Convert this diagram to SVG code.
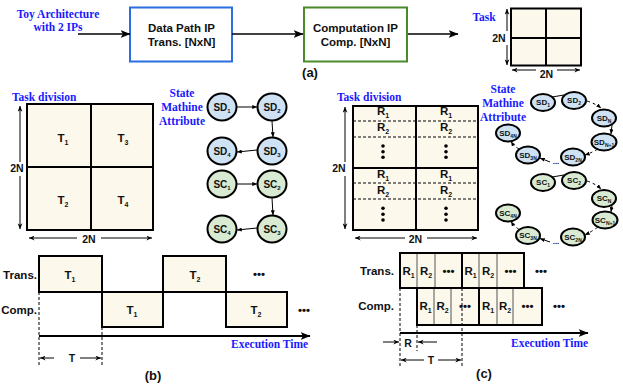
<svg xmlns="http://www.w3.org/2000/svg" width="623" height="385" viewBox="0 0 623 385">
<style>
.blue{font-family:"Liberation Serif","Times New Roman",serif;font-weight:bold;font-size:11.5px;fill:#1a1aff}
.lb{font-family:"Liberation Sans",Arial,sans-serif;font-weight:bold;font-size:11.5px;fill:#111}
.dim{font-family:"Liberation Sans",Arial,sans-serif;font-weight:bold;font-size:10.5px;fill:#111}
.cap{font-family:"Liberation Sans",Arial,sans-serif;font-weight:bold;font-size:13px;fill:#111}
.sm{font-family:"Liberation Sans",Arial,sans-serif;font-weight:bold;font-size:10px;fill:#111}
.xs{font-family:"Liberation Sans",Arial,sans-serif;font-weight:bold;font-size:8px;fill:#111}
.cell{fill:#fcf8ec;stroke:#000;stroke-width:2}
.thin{stroke:#555;stroke-width:1;fill:none}
.dl{stroke:#000;stroke-width:1;stroke-dasharray:3,2;fill:none}
.ln{stroke:#000;stroke-width:1.6;fill:none}
.ax{stroke:#000;stroke-width:2;fill:none}
.dm{stroke:#000;stroke-width:1;fill:none}
.sd{fill:#cfe2f3;stroke:#000;stroke-width:2}
.sc{fill:#d9ead3;stroke:#000;stroke-width:2}
.sa{stroke:#000;stroke-width:1;fill:none}
.sad{stroke:#000;stroke-width:1;fill:none;stroke-dasharray:3,3}
</style>
<defs>
<marker id="big" viewBox="0 0 10 8" refX="9.5" refY="4" markerWidth="10" markerHeight="8" markerUnits="userSpaceOnUse" orient="auto"><path d="M0,0 L10,4 L0,8 L2.5,4 z" fill="#000"/></marker>
<marker id="sml" viewBox="0 0 10 8" refX="9.5" refY="4" markerWidth="6" markerHeight="5" markerUnits="userSpaceOnUse" orient="auto-start-reverse"><path d="M0,0 L10,4 L0,8 L3,4 z" fill="#000"/></marker>
<marker id="tip" viewBox="0 0 10 8" refX="9.5" refY="4" markerWidth="5" markerHeight="4" markerUnits="userSpaceOnUse" orient="auto"><path d="M0,0 L10,4 L0,8 z" fill="#000"/></marker>
</defs>

<!-- (a) -->
<text class="blue" x="58" y="18" text-anchor="middle">Toy Architecture</text>
<text class="blue" x="58" y="31" text-anchor="middle">with 2 IPs</text>
<g id="ip1"><rect x="130" y="7.5" width="102" height="54" fill="#fff" stroke="#2a6ee0" stroke-width="2"/>
<text class="lb" x="181.5" y="31.5" text-anchor="middle">Data Path IP</text>
<text class="lb" x="181.5" y="46" text-anchor="middle">Trans. [NxN]</text></g>
<g id="ip2"><rect x="304" y="7.5" width="103" height="54" fill="#fff" stroke="#4a8a2a" stroke-width="2"/>
<text class="lb" x="355.5" y="31.5" text-anchor="middle">Computation IP</text>
<text class="lb" x="355.5" y="46" text-anchor="middle">Comp. [NxN]</text></g>
<text class="cap" x="310" y="77" text-anchor="middle">(a)</text>
<g id="task">
<text class="blue" x="484" y="21" text-anchor="middle">Task</text>
<rect class="cell" x="511" y="8.5" width="70" height="57"/>
<line class="ax" x1="546" y1="8.5" x2="546" y2="65.5"/>
<line class="ax" x1="511" y1="38" x2="581" y2="38"/>
<line class="dm" x1="507" y1="31" x2="507" y2="9" marker-end="url(#sml)"/>
<line class="dm" x1="507" y1="45" x2="507" y2="65" marker-end="url(#sml)"/>
<text class="dim" x="499" y="42" text-anchor="middle">2N</text>
<line class="dm" x1="536" y1="70" x2="512" y2="70" marker-end="url(#sml)"/>
<line class="dm" x1="557" y1="70" x2="580" y2="70" marker-end="url(#sml)"/>
<text class="dim" x="546.5" y="77.5" text-anchor="middle">2N</text>
</g>

<!-- (b) grid -->
<g id="gridb">
<text class="blue" x="12" y="101">Task division</text>
<rect class="cell" x="27" y="104" width="126" height="126"/>
<line class="ax" x1="91" y1="104" x2="91" y2="230"/>
<line class="ax" x1="27" y1="167" x2="153" y2="167"/>
<text class="lb" x="63" y="142" text-anchor="middle">T<tspan font-size="7" dy="3">1</tspan></text>
<text class="lb" x="123" y="142" text-anchor="middle">T<tspan font-size="7" dy="3">3</tspan></text>
<text class="lb" x="63" y="204" text-anchor="middle">T<tspan font-size="7" dy="3">2</tspan></text>
<text class="lb" x="123" y="204" text-anchor="middle">T<tspan font-size="7" dy="3">4</tspan></text>
<line class="dm" x1="20" y1="162" x2="20" y2="106" marker-end="url(#sml)"/>
<line class="dm" x1="20" y1="176" x2="20" y2="229" marker-end="url(#sml)"/>
<text class="dim" x="17" y="171.5" text-anchor="middle">2N</text>
<line class="dm" x1="77" y1="238" x2="29" y2="238" marker-end="url(#sml)"/>
<line class="dm" x1="101" y1="238" x2="152" y2="238" marker-end="url(#sml)"/>
<text class="dim" x="89" y="242.5" text-anchor="middle">2N</text>
</g>

<text class="blue" x="182" y="97" text-anchor="middle">State</text>
<text class="blue" x="182" y="111" text-anchor="middle">Mathine</text>
<text class="blue" x="182" y="125" text-anchor="middle">Attribute</text>

<g id="sd1"><ellipse class="sd" cx="222" cy="107" rx="14.5" ry="13.5"/><text class="sm" x="222" y="110.5" text-anchor="middle">SD<tspan font-size="6" dy="2.5">1</tspan></text></g>
<g id="sd2"><ellipse class="sd" cx="272" cy="107" rx="14.5" ry="13.5"/><text class="sm" x="272" y="110.5" text-anchor="middle">SD<tspan font-size="6" dy="2.5">2</tspan></text></g>
<g id="sd3"><ellipse class="sd" cx="272" cy="151" rx="14.5" ry="13.5"/><text class="sm" x="272" y="154.5" text-anchor="middle">SD<tspan font-size="6" dy="2.5">3</tspan></text></g>
<g id="sd4"><ellipse class="sd" cx="222" cy="151" rx="14.5" ry="13.5"/><text class="sm" x="222" y="154.5" text-anchor="middle">SD<tspan font-size="6" dy="2.5">4</tspan></text></g>
<g id="sc1"><ellipse class="sc" cx="222" cy="184" rx="14.5" ry="13.5"/><text class="sm" x="222" y="187.5" text-anchor="middle">SC<tspan font-size="6" dy="2.5">1</tspan></text></g>
<g id="sc2"><ellipse class="sc" cx="272" cy="184" rx="14.5" ry="13.5"/><text class="sm" x="272" y="187.5" text-anchor="middle">SC<tspan font-size="6" dy="2.5">2</tspan></text></g>
<g id="sc3"><ellipse class="sc" cx="272" cy="229" rx="14.5" ry="13.5"/><text class="sm" x="272" y="232.5" text-anchor="middle">SC<tspan font-size="6" dy="2.5">3</tspan></text></g>
<g id="sc4"><ellipse class="sc" cx="222" cy="229" rx="14.5" ry="13.5"/><text class="sm" x="222" y="232.5" text-anchor="middle">SC<tspan font-size="6" dy="2.5">4</tspan></text></g>

<!-- (b) timeline -->
<g id="timeb">
<rect class="cell" x="39" y="256" width="63" height="36"/>
<rect class="cell" x="102" y="292" width="61" height="35"/>
<rect class="cell" x="163" y="256" width="63" height="36"/>
<rect class="cell" x="226" y="292" width="61" height="35"/>
<text class="lb" x="37" y="279" text-anchor="end">Trans.</text>
<text class="lb" x="37" y="314" text-anchor="end">Comp.</text>
<text class="lb" x="70" y="279" text-anchor="middle">T<tspan font-size="7" dy="3">1</tspan></text>
<text class="lb" x="132" y="314" text-anchor="middle">T<tspan font-size="7" dy="3">1</tspan></text>
<text class="lb" x="195" y="279" text-anchor="middle">T<tspan font-size="7" dy="3">2</tspan></text>
<text class="lb" x="256" y="314" text-anchor="middle">T<tspan font-size="7" dy="3">2</tspan></text>
<text class="lb" x="259" y="278" text-anchor="middle">•••</text>
<text class="lb" x="304" y="314" text-anchor="middle">•••</text>
<text class="blue" x="231" y="348">Execution Time</text>
<text class="dim" x="72" y="362" text-anchor="middle">T</text>
<text class="cap" x="153" y="380" text-anchor="middle">(b)</text>
</g>

<!-- (c) grid -->
<g id="gridc">
<text class="blue" x="337" y="101">Task division</text>
<rect class="cell" x="353" y="106" width="125" height="124"/>
<line class="dl" x1="353" y1="121" x2="478" y2="121"/>
<line class="dl" x1="353" y1="137" x2="478" y2="137"/>
<line class="dl" x1="353" y1="183" x2="478" y2="183"/>
<line class="dl" x1="353" y1="199" x2="478" y2="199"/>
<line class="ax" x1="416" y1="106" x2="416" y2="230"/>
<line class="ax" x1="353" y1="168" x2="478" y2="168"/>
<text class="lb" x="383" y="115" text-anchor="middle">R<tspan font-size="7" dy="3">1</tspan></text>
<text class="lb" x="446" y="115" text-anchor="middle">R<tspan font-size="7" dy="3">1</tspan></text>
<text class="lb" x="383" y="131" text-anchor="middle">R<tspan font-size="7" dy="3">2</tspan></text>
<text class="lb" x="446" y="131" text-anchor="middle">R<tspan font-size="7" dy="3">2</tspan></text>
<text class="lb" x="383" y="178" text-anchor="middle">R<tspan font-size="7" dy="3">1</tspan></text>
<text class="lb" x="446" y="178" text-anchor="middle">R<tspan font-size="7" dy="3">1</tspan></text>
<text class="lb" x="383" y="194" text-anchor="middle">R<tspan font-size="7" dy="3">2</tspan></text>
<text class="lb" x="446" y="194" text-anchor="middle">R<tspan font-size="7" dy="3">2</tspan></text>
<g fill="#000">
<circle cx="383" cy="146" r="1.8"/><circle cx="383" cy="151.7" r="1.8"/><circle cx="383" cy="157.3" r="1.8"/>
<circle cx="446" cy="146" r="1.8"/><circle cx="446" cy="151.7" r="1.8"/><circle cx="446" cy="157.3" r="1.8"/>
<circle cx="383" cy="208.3" r="1.8"/><circle cx="383" cy="214.3" r="1.8"/><circle cx="383" cy="220" r="1.8"/>
<circle cx="446" cy="208.3" r="1.8"/><circle cx="446" cy="214.3" r="1.8"/><circle cx="446" cy="220" r="1.8"/>
</g>
<line class="dm" x1="345" y1="162" x2="345" y2="107" marker-end="url(#sml)"/>
<line class="dm" x1="345" y1="176" x2="345" y2="229" marker-end="url(#sml)"/>
<text class="dim" x="339" y="171.5" text-anchor="middle">2N</text>
<line class="dm" x1="405" y1="238" x2="355" y2="238" marker-end="url(#sml)"/>
<line class="dm" x1="427" y1="238" x2="477" y2="238" marker-end="url(#sml)"/>
<text class="dim" x="415.5" y="242.5" text-anchor="middle">2N</text>
</g>

<text class="blue" x="503" y="93" text-anchor="middle">State</text>
<text class="blue" x="503" y="107" text-anchor="middle">Mathine</text>
<text class="blue" x="503" y="121" text-anchor="middle">Attribute</text>

<g id="csd1"><ellipse class="sd" cx="543" cy="102.5" rx="12" ry="8.5"/><text class="xs" x="543" y="105" text-anchor="middle">SD<tspan font-size="5" dy="2">1</tspan></text></g>
<g id="csd2"><ellipse class="sd" cx="574" cy="100.5" rx="12" ry="8.5"/><text class="xs" x="574" y="103" text-anchor="middle">SD<tspan font-size="5" dy="2">2</tspan></text></g>
<g id="csdn"><ellipse class="sd" cx="604" cy="118" rx="12" ry="8.5"/><text class="xs" x="604" y="120.5" text-anchor="middle">SD<tspan font-size="5" dy="2">N</tspan></text></g>
<g id="csdn1"><ellipse class="sd" cx="604" cy="142" rx="12.5" ry="8.5"/><text class="xs" x="604" y="144.5" text-anchor="middle">SD<tspan font-size="5" dy="2">N+1</tspan></text></g>
<g id="csd2n"><ellipse class="sd" cx="573" cy="157" rx="12" ry="8.5"/><text class="xs" x="573" y="159.5" text-anchor="middle">SD<tspan font-size="5" dy="2">2N</tspan></text></g>
<g id="csd3n"><ellipse class="sd" cx="528" cy="155" rx="12" ry="8.5"/><text class="xs" x="528" y="157.5" text-anchor="middle">SD<tspan font-size="5" dy="2">3N</tspan></text></g>
<g id="csd4n"><ellipse class="sd" cx="508" cy="133" rx="12" ry="8.5"/><text class="xs" x="508" y="135.5" text-anchor="middle">SD<tspan font-size="5" dy="2">4N</tspan></text></g>

<g id="csc1"><ellipse class="sc" cx="543" cy="182.5" rx="12" ry="8.5"/><text class="xs" x="543" y="185" text-anchor="middle">SC<tspan font-size="5" dy="2">1</tspan></text></g>
<g id="csc2"><ellipse class="sc" cx="574" cy="180.5" rx="12" ry="8.5"/><text class="xs" x="574" y="183" text-anchor="middle">SC<tspan font-size="5" dy="2">2</tspan></text></g>
<g id="cscn"><ellipse class="sc" cx="604" cy="198.5" rx="12" ry="8.5"/><text class="xs" x="604" y="201" text-anchor="middle">SC<tspan font-size="5" dy="2">N</tspan></text></g>
<g id="cscn1"><ellipse class="sc" cx="605" cy="220" rx="12.5" ry="8.5"/><text class="xs" x="605" y="222.5" text-anchor="middle">SC<tspan font-size="5" dy="2">N+1</tspan></text></g>
<g id="csc2n"><ellipse class="sc" cx="573" cy="237" rx="12" ry="8.5"/><text class="xs" x="573" y="239.5" text-anchor="middle">SC<tspan font-size="5" dy="2">2N</tspan></text></g>
<g id="csc3n"><ellipse class="sc" cx="528" cy="235.5" rx="12" ry="8.5"/><text class="xs" x="528" y="238" text-anchor="middle">SC<tspan font-size="5" dy="2">3N</tspan></text></g>
<g id="csc4n"><ellipse class="sc" cx="508" cy="213" rx="12" ry="8.5"/><text class="xs" x="508" y="215.5" text-anchor="middle">SC<tspan font-size="5" dy="2">4N</tspan></text></g>

<!-- (c) timeline -->
<g id="timec">
<rect class="cell" x="400" y="253" width="62" height="35"/>
<rect class="cell" x="462" y="253" width="62" height="35"/>
<line class="thin" x1="417" y1="254" x2="417" y2="287"/>
<line class="thin" x1="435" y1="254" x2="435" y2="287"/>
<line class="thin" x1="479" y1="254" x2="479" y2="287"/>
<line class="thin" x1="497" y1="254" x2="497" y2="287"/>
<rect class="cell" x="417" y="288" width="62" height="37"/>
<rect class="cell" x="479" y="288" width="63" height="37"/>
<line class="thin" x1="434" y1="289" x2="434" y2="324"/>
<line class="thin" x1="451" y1="289" x2="451" y2="324"/>
<line class="thin" x1="497" y1="289" x2="497" y2="324"/>
<line class="thin" x1="513" y1="289" x2="513" y2="324"/>
<text class="lb" x="394" y="275" text-anchor="end">Trans.</text>
<text class="lb" x="394" y="310" text-anchor="end">Comp.</text>
<text class="lb" x="408.5" y="275" text-anchor="middle">R<tspan font-size="7" dy="3">1</tspan></text>
<text class="lb" x="426" y="275" text-anchor="middle">R<tspan font-size="7" dy="3">2</tspan></text>
<text class="lb" x="448.5" y="275" text-anchor="middle">•••</text>
<text class="lb" x="470.5" y="275" text-anchor="middle">R<tspan font-size="7" dy="3">1</tspan></text>
<text class="lb" x="488" y="275" text-anchor="middle">R<tspan font-size="7" dy="3">2</tspan></text>
<text class="lb" x="510.5" y="275" text-anchor="middle">•••</text>
<text class="lb" x="541" y="275" text-anchor="middle">•••</text>
<text class="lb" x="425.5" y="310" text-anchor="middle">R<tspan font-size="7" dy="3">1</tspan></text>
<text class="lb" x="442.5" y="310" text-anchor="middle">R<tspan font-size="7" dy="3">2</tspan></text>
<text class="lb" x="465" y="310" text-anchor="middle">•••</text>
<text class="lb" x="488" y="310" text-anchor="middle">R<tspan font-size="7" dy="3">1</tspan></text>
<text class="lb" x="505" y="310" text-anchor="middle">R<tspan font-size="7" dy="3">2</tspan></text>
<text class="lb" x="527.5" y="310" text-anchor="middle">•••</text>
<text class="lb" x="559" y="310" text-anchor="middle">•••</text>
<text class="blue" x="511" y="347">Execution Time</text>
<text class="dim" x="408" y="347" text-anchor="middle">R</text>
<text class="dim" x="431" y="364" text-anchor="middle">T</text>
<text class="cap" x="484" y="378" text-anchor="middle">(c)</text>
</g>

<g id="connectors">
<line class="ln" x1="78" y1="34" x2="130" y2="34" marker-end="url(#big)"/>
<line class="ln" x1="232" y1="34" x2="303" y2="34" marker-end="url(#big)"/>
<line class="ln" x1="408" y1="34" x2="458" y2="34" marker-end="url(#big)"/>
<!-- b state -->
<line class="sa" x1="237" y1="107" x2="257" y2="107" marker-end="url(#tip)"/>
<line class="sa" x1="272" y1="121" x2="273" y2="137" marker-end="url(#tip)"/>
<line class="sa" x1="257" y1="150" x2="237" y2="152" marker-end="url(#tip)"/>
<line class="sa" x1="237" y1="184" x2="257" y2="184" marker-end="url(#tip)"/>
<line class="sa" x1="272" y1="198" x2="273" y2="215" marker-end="url(#tip)"/>
<line class="sa" x1="257" y1="228" x2="237" y2="230" marker-end="url(#tip)"/>
<!-- b timeline -->
<line class="ax" x1="39" y1="336" x2="310" y2="336" marker-end="url(#big)"/>
<line class="dl" x1="39" y1="292" x2="39" y2="366"/>
<line class="dl" x1="102" y1="327" x2="102" y2="366"/>
<line class="dm" x1="54" y1="358" x2="40" y2="358" marker-end="url(#sml)"/>
<line class="dm" x1="80" y1="358" x2="101" y2="358" marker-end="url(#sml)"/>
<!-- c state SD -->
<line class="sa" x1="552" y1="97" x2="564" y2="95"/>
<path class="sad" d="M587,101 Q596,104 601,108" marker-end="url(#tip)"/>
<line class="sa" x1="612" y1="125" x2="611" y2="134" marker-end="url(#tip)"/>
<path class="sad" d="M598,149 Q591,153 585,155" marker-end="url(#tip)"/>
<text class="xs" x="556" y="164" text-anchor="middle">...</text>
<line class="sa" x1="550" y1="162" x2="540" y2="158" marker-end="url(#tip)"/>
<path class="sad" d="M519,149 Q514,146 511,141.5" marker-end="url(#tip)"/>
<!-- c state SC -->
<line class="sa" x1="552" y1="177" x2="564" y2="175"/>
<path class="sad" d="M587,181 Q596,184 601,189" marker-end="url(#tip)"/>
<line class="sa" x1="612" y1="205.5" x2="611" y2="212" marker-end="url(#tip)"/>
<path class="sad" d="M598,227 Q591,232 585,235" marker-end="url(#tip)"/>
<text class="xs" x="556" y="244" text-anchor="middle">...</text>
<line class="sa" x1="550" y1="242" x2="540" y2="238.5" marker-end="url(#tip)"/>
<path class="sad" d="M519,229.5 Q514,226 511,221.5" marker-end="url(#tip)"/>
<!-- c timeline -->
<line class="ax" x1="400" y1="333" x2="588" y2="333" marker-end="url(#big)"/>
<line class="dl" x1="400" y1="288" x2="400" y2="366"/>
<line class="dl" x1="417" y1="325" x2="417" y2="351"/>
<line class="dl" x1="462" y1="288" x2="462" y2="367"/>
<line class="dm" x1="383" y1="342" x2="399" y2="342" marker-end="url(#sml)"/>
<line class="dm" x1="437" y1="342" x2="418" y2="342" marker-end="url(#sml)"/>
<line class="dm" x1="424" y1="360" x2="401" y2="360" marker-end="url(#sml)"/>
<line class="dm" x1="438" y1="360" x2="461" y2="360" marker-end="url(#sml)"/>
</g>
</svg>
